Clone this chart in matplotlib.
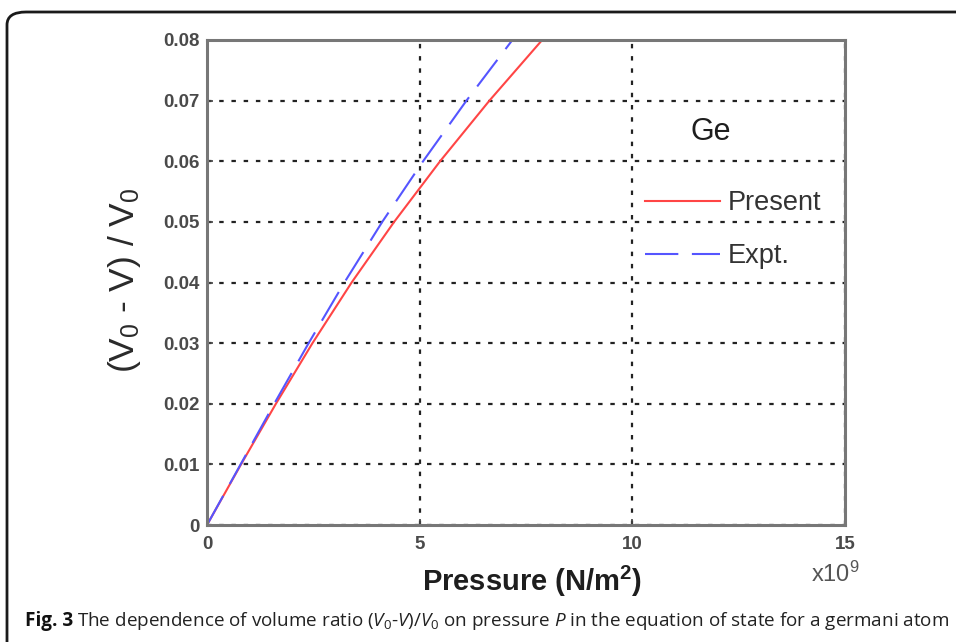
import numpy as np
import matplotlib
matplotlib.use("Agg")
from matplotlib import pyplot as plt
from matplotlib.patches import FancyBboxPatch

# volume ratio values (grid levels) and read-off pressures (x1e9 N/m^2)
ratio = [0.0, 0.01, 0.02, 0.03, 0.04, 0.05, 0.06, 0.07, 0.08]
p_present = [0.0, 0.80, 1.62, 2.48, 3.40, 4.40, 5.48, 6.64, 7.88]
p_expt = [0.0, 0.79, 1.58, 2.39, 3.23, 4.12, 5.08, 6.10, 7.18]

x_ticks = [0, 5, 10, 15]
y_ticks = [0, 0.01, 0.02, 0.03, 0.04, 0.05, 0.06, 0.07, 0.08]
y_ticklabels = ["0", "0.01", "0.02", "0.03", "0.04", "0.05", "0.06", "0.07", "0.08"]

plt.rcParams['font.family'] = ['Liberation Sans', 'DejaVu Sans']
plt.rcParams['mathtext.fontset'] = 'custom'
plt.rcParams['mathtext.rm'] = 'Open Sans'
plt.rcParams['mathtext.it'] = 'Open Sans:italic'

W, H = 956, 642
fig = plt.figure(figsize=(W / 100, H / 100), dpi=100)

# rounded frame around the figure (open to the right and bottom)
frame = FancyBboxPatch((7 / W, -0.2), 1.2, (H - 12) / H + 0.2,
                       boxstyle="round,pad=0,rounding_size=0.02",
                       transform=fig.transFigure, fill=False,
                       edgecolor='#1a1a1a', linewidth=2, clip_on=False)
fig.patches.append(frame)

ax = fig.add_axes([207 / W, (H - 525) / H, (845 - 207) / W, (525 - 40) / H])

ax.plot(p_present, ratio, color='#ff4545', linewidth=1.5, label='Present')
ax.plot(p_expt, ratio, color='#5555ff', linewidth=1.5, dashes=(16, 6.5), label='Expt.')

ax.set_xlim(0, 15)
ax.set_ylim(0, 0.08)
ax.set_xticks(x_ticks)
ax.set_yticks(y_ticks)
ax.set_yticklabels(y_ticklabels)
ax.grid(True, color='#222222', linestyle=(0, (2, 3.5)), linewidth=1.6)

for s in ax.spines.values():
    s.set_color('#777777')
    s.set_linewidth(2.2)
ax.tick_params(direction='in', length=4, color='#444444', width=1.2,
               labelcolor='#4a4a4a', labelsize=13.5, pad=5)
ax.tick_params(axis='x', pad=8)
for lab in ax.get_xticklabels() + ax.get_yticklabels():
    lab.set_fontweight('bold')

ax.set_xlabel('Pressure (N/m$^{\\mathregular{2}}$)', fontsize=21, fontweight='bold',
              color='#1e1e1e')
ax.xaxis.set_label_coords(0.51, -0.08)
ax.set_ylabel('(V$_{\\mathregular{0}}$ - V) / V$_{\\mathregular{0}}$', fontsize=25.5,
              color='#2a2a2a')
ax.yaxis.set_label_coords(-0.1, 0.505)

ax.text(0.985, -0.075, 'x10$^{\\mathregular{9}}$', transform=ax.transAxes, ha='center',
        va='top', fontsize=17, color='#555555')
ax.text(0.79, 0.81, 'Ge', transform=ax.transAxes, ha='center', va='center',
        fontsize=22, color='#1e1e1e')

leg = ax.legend(loc='upper left', bbox_to_anchor=(0.687, 0.69), frameon=False,
                fontsize=19.5, handlelength=2.75, handletextpad=0.3, labelspacing=1.0,
                borderaxespad=0, borderpad=0)
for t in leg.get_texts():
    t.set_color('#333333')

# caption, scaled so it spans the width of the frame
cap_y = 1 - 621 / H
t1 = fig.text(25 / W, cap_y, 'Fig. 3', fontsize=13, fontweight='bold',
              family='Open Sans', va='center', ha='left', color='#111111')
t2 = fig.text(0.1, cap_y,
              'The dependence of volume ratio ($V_{\\mathregular{0}}$-$V$)/$V_{\\mathregular{0}}$ '
              'on pressure $P$ in the equation of state for a germani atom',
              fontsize=13, family='Open Sans', va='center', ha='left', color='#222222')
for _ in range(3):
    fig.canvas.draw()
    r = fig.canvas.get_renderer()
    e1 = t1.get_window_extent(r)
    t2.set_x((e1.x1 + 0.35 * t1.get_fontsize()) / W)
    fig.canvas.draw()
    e2 = t2.get_window_extent(r)
    k = (947 - 25) / (e2.x1 - e1.x0)
    t1.set_fontsize(t1.get_fontsize() * k)
    t2.set_fontsize(t2.get_fontsize() * k)

fig.savefig('out.png', dpi=100)
